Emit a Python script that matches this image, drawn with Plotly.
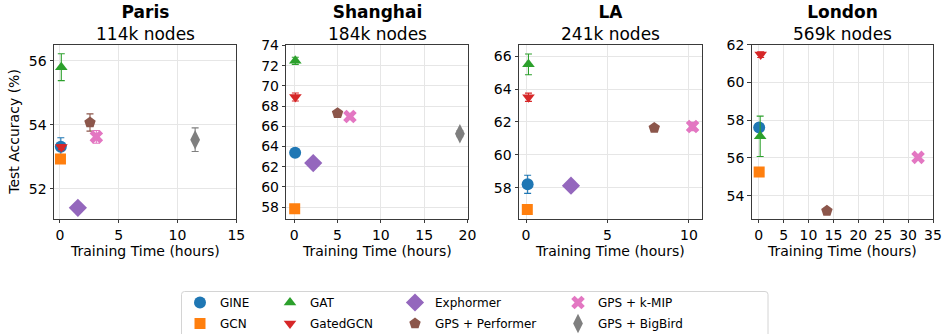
import plotly.graph_objects as go

W, H = 943, 334

# Methods, styling per method
methods = ["GINE", "GCN", "GAT", "GatedGCN", "Exphormer",
           "GPS + Performer", "GPS + k-MIP", "GPS + BigBird"]
colors = ["#1f77b4", "#ff7f0e", "#2ca02c", "#d62728", "#9467bd",
          "#8c564b", "#e377c2", "#7f7f7f"]
symbols = ["circle", "square", "triangle-up", "triangle-down", "diamond",
           "pentagon", "x", "diamond-tall"]
sizes = [12, 11, 11, 11, 14, 12, 12, 14]

cities = ["Paris", "Shanghai", "LA", "London"]
node_counts = ["114k nodes", "184k nodes", "241k nodes", "569k nodes"]

# Training time (hours), test accuracy (%), std of accuracy; None = not run
paris_time = [0.08, 0.05, 0.12, 0.13, 1.53, 2.56, 3.10, 11.5]
paris_acc = [53.31, 52.93, 55.80, 53.30, 51.40, 54.07, 53.62, 53.53]
paris_err = [0.28, 0.05, 0.42, 0.08, 0.05, 0.27, 0.20, 0.37]

shanghai_time = [0.10, 0.05, 0.12, 0.13, 2.19, 5.00, 6.43, 19.13]
shanghai_acc = [63.38, 57.84, 72.48, 68.90, 62.36, 67.30, 66.97, 65.26]
shanghai_err = [0.10, 0.10, 0.35, 0.40, 0.10, 0.15, 0.20, 0.30]

la_time = [0.10, 0.08, 0.15, 0.15, 2.76, 7.87, 10.22, None]
la_acc = [58.20, 56.67, 65.50, 63.50, 58.12, 61.63, 61.72, None]
la_err = [0.55, 0.10, 0.63, 0.25, 0.08, 0.10, 0.25, None]

london_time = [0.10, 0.10, 0.30, 0.40, None, 13.70, 32.00, None]
london_acc = [57.62, 55.26, 57.15, 61.48, None, 53.20, 56.03, None]
london_err = [0.10, 0.10, 1.07, 0.15, None, 0.05, 0.10, None]

city_data = [
    (paris_time, paris_acc, paris_err),
    (shanghai_time, shanghai_acc, shanghai_err),
    (la_time, la_acc, la_err),
    (london_time, london_acc, london_err),
]

# Axis ranges per panel
x_ranges = [[-0.5, 15.0], [-0.92, 20.1], [-0.43, 10.78], [-1.4, 35.0]]
y_ranges = [[51.06, 56.5], [56.85, 74.07], [56.11, 66.69], [52.78, 62.0]]

# Panel placement in pixels (left, right), shared top/bottom
panel_px = [(54, 236.3), (286.3, 468.3), (519, 701.7), (751.7, 933)]
top_px, bot_px = 44.8, 218.7

FONT = "DejaVu Sans"
SPINE = "#3a3a3a"
GRID = "#e6e6e6"
TICK_SIZE = 14
TITLE_SIZE = 17
LEGEND_SIZE = 12

def px_x(p):
    return p / W

def px_y(p):
    return 1 - p / H

fig = go.Figure()

legend_ids = ["legend", "legend", "legend2", "legend2",
              "legend3", "legend3", "legend4", "legend4"]

for ci, (times, accs, errs) in enumerate(city_data):
    axn = "" if ci == 0 else str(ci + 1)
    for mi, name in enumerate(methods):
        if times[mi] is None:
            continue
        fig.add_trace(go.Scatter(
            x=[times[mi]], y=[accs[mi]],
            mode="markers",
            name=name,
            legend=legend_ids[mi],
            legendgroup=name,
            showlegend=(ci == 0),
            marker=dict(symbol=symbols[mi], size=sizes[mi], color=colors[mi],
                        line=dict(width=0)),
            error_y=dict(type="data", array=[errs[mi]], visible=True,
                         color=colors[mi], thickness=1.1, width=3.5),
            xaxis="x" + axn, yaxis="y" + axn,
        ))

layout = dict(
    width=W, height=H,
    margin=dict(l=0, r=0, t=0, b=0, autoexpand=False),
    paper_bgcolor="white", plot_bgcolor="white",
    font=dict(family=FONT, size=TICK_SIZE, color="black"),
)

for ci in range(4):
    axn = "" if ci == 0 else str(ci + 1)
    l, r = panel_px[ci]
    common = dict(
        showline=True, mirror=True, linecolor=SPINE, linewidth=1,
        ticks="outside", ticklen=3.5, tickwidth=1, tickcolor=SPINE,
        showgrid=True, gridcolor=GRID, gridwidth=1, zeroline=False,
        tickfont=dict(family=FONT, size=TICK_SIZE, color="black"),
    )
    layout["xaxis" + axn] = dict(
        domain=[px_x(l), px_x(r)], range=x_ranges[ci], dtick=5, tick0=0,
        anchor="y" + axn, **common)
    layout["yaxis" + axn] = dict(
        domain=[px_y(bot_px), px_y(top_px)], range=y_ranges[ci], dtick=2,
        tick0=0, anchor="x" + axn, **common)

annotations = []
for ci in range(4):
    l, r = panel_px[ci]
    cx = px_x((l + r) / 2)
    annotations.append(dict(text="<b>" + cities[ci] + "</b><br>" + node_counts[ci],
                            x=cx, y=px_y(22.8),
                            xref="paper", yref="paper", showarrow=False,
                            xanchor="center", yanchor="middle", borderpad=0,
                            font=dict(family=FONT, size=TITLE_SIZE, color="black")))
    annotations.append(dict(text="Training Time (hours)", x=cx, y=px_y(251),
                            xref="paper", yref="paper", showarrow=False,
                            xanchor="center", yanchor="middle",
                            font=dict(family=FONT, size=TICK_SIZE, color="black")))
annotations.append(dict(text="Test Accuracy (%)", x=px_x(14),
                        y=px_y((top_px + bot_px) / 2),
                        xref="paper", yref="paper", showarrow=False,
                        textangle=-90, xanchor="center", yanchor="middle",
                        font=dict(family=FONT, size=TICK_SIZE, color="black")))
layout["annotations"] = annotations

# Four legend columns, two entries each
legend_x = [180, 270, 395, 558]
for k, lx in enumerate(legend_x):
    key = "legend" if k == 0 else "legend" + str(k + 1)
    layout[key] = dict(
        x=px_x(lx), y=px_y(288), xanchor="left", yanchor="top",
        orientation="v", bgcolor="rgba(0,0,0,0)", borderwidth=0,
        font=dict(family=FONT, size=LEGEND_SIZE, color="black"),
        tracegroupgap=2, itemsizing="trace",
    )

# Rounded frame around the legend block
x0, x1 = px_x(181.5), px_x(768)
y0, y1 = px_y(291.5), px_y(345)
rx, ry = 3 / W, 3 / H
path = (f"M {x0+rx},{y0} L {x1-rx},{y0} Q {x1},{y0} {x1},{y0-ry} "
        f"L {x1},{y1+ry} Q {x1},{y1} {x1-rx},{y1} L {x0+rx},{y1} "
        f"Q {x0},{y1} {x0},{y1+ry} L {x0},{y0-ry} Q {x0},{y0} {x0+rx},{y0} Z")
layout["shapes"] = [dict(type="path", path=path, xref="paper", yref="paper",
                         line=dict(color="#d4d4d4", width=1))]

fig.update_layout(**layout)
fig.write_html("out.html")
